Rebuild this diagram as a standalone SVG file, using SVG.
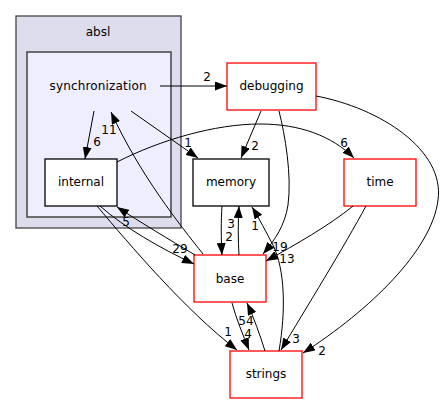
<svg xmlns="http://www.w3.org/2000/svg" width="445" height="404" viewBox="0 0 445 404">
<style>
text{font-family:"DejaVu Sans","Liberation Sans",sans-serif;font-size:12px;fill:#000}
.n{text-anchor:middle}
.e{fill:none;stroke:#000;stroke-width:1}
.red{fill:#fff;stroke:#ff0000;stroke-width:1.3}
.blk{fill:#fff;stroke:#000;stroke-width:1.3}
</style>
<defs>
<marker id="a" viewBox="0 0 12 9" refX="12" refY="4.5" markerWidth="12" markerHeight="9" markerUnits="userSpaceOnUse" orient="auto">
<path d="M0,0 L12,4.5 L0,9 z" fill="#000"/>
</marker>
</defs>
<g id="absl">
<rect x="16" y="16" width="165" height="212" fill="#ddddee" stroke="#444" stroke-width="1.3"/>
<text class="n" x="98" y="36">absl</text>
</g>
<g id="synchronization">
<rect x="27" y="52" width="144" height="165" fill="#eeeeff" stroke="#444" stroke-width="1.5"/>
<text class="n" x="98" y="90" textLength="97" lengthAdjust="spacing">synchronization</text>
</g>
<g id="internal">
<rect x="45" y="159" width="72" height="47" class="blk"/>
<text class="n" x="81" y="186">internal</text>
</g>
<g id="memory">
<rect x="193" y="159" width="76" height="47" class="blk"/>
<text class="n" x="231" y="186">memory</text>
</g>
<g id="debugging">
<rect x="227" y="63" width="89" height="47" class="red"/>
<text class="n" x="271.5" y="90">debugging</text>
</g>
<g id="time">
<rect x="344" y="159" width="72" height="47" class="red"/>
<text class="n" x="380" y="186">time</text>
</g>
<g id="base">
<rect x="194" y="255" width="72" height="47" class="red"/>
<text class="n" x="230" y="283">base</text>
</g>
<g id="strings">
<rect x="230" y="351" width="72" height="47" class="red"/>
<text class="n" x="266" y="378">strings</text>
</g>
<g id="edges">
<path class="e" marker-end="url(#a)" d="M160,86 L227,86"/>
<text class="n" x="207" y="81">2</text>
<path class="e" marker-end="url(#a)" d="M94,111 L85,159"/>
<text class="n" x="97" y="146">6</text>
<path class="e" marker-end="url(#a)" d="M131,111 L198,158"/>
<text class="n" x="188" y="147">1</text>
<path class="e" marker-end="url(#a)" d="M117,162 C160,140 215,124 260,124 C300,124 332,136 354,158"/>
<text class="n" x="344" y="147">6</text>
<path class="e" marker-end="url(#a)" d="M261,111 L241,158"/>
<text class="n" x="255" y="150">2</text>
<path class="e" marker-end="url(#a)" d="M279,111 C285,135 292,175 288,205 C285,225 275,240 263,254"/>
<text class="n" x="280" y="251">19</text>
<path class="e" marker-end="url(#a)" d="M316,96 C380,108 445,150 438,200 C432,250 370,310 303,353"/>
<text class="n" x="322" y="355">2</text>
<path class="e" marker-end="url(#a)" d="M353,206 C330,225 295,245 266,261"/>
<text class="n" x="287" y="263">13</text>
<path class="e" marker-end="url(#a)" d="M366,206 C345,245 305,310 281,350"/>
<text class="n" x="296" y="343">3</text>
<path class="e" marker-end="url(#a)" d="M222,206 C221,220 221,240 222,255"/>
<text class="n" x="229" y="241">2</text>
<path class="e" marker-end="url(#a)" d="M239,255 C238,240 238,222 239,206"/>
<text class="n" x="231" y="228">3</text>
<path class="e" marker-end="url(#a)" d="M279,351 C286,310 285,270 273,245 C266,232 259,218 252,207"/>
<text class="n" x="255" y="230">1</text>
<path class="e" marker-end="url(#a)" d="M232,303 C236,318 243,335 249,350"/>
<text class="n" x="248" y="338">4</text>
<path class="e" marker-end="url(#a)" d="M265,351 C260,335 254,318 247,303"/>
<text class="n" x="246" y="325">54</text>
<path class="e" marker-end="url(#a)" d="M100,206 C125,228 160,248 194,264"/>
<text class="n" x="180" y="253">29</text>
<path class="e" marker-end="url(#a)" d="M97,206 C130,245 185,310 237,350"/>
<text class="n" x="228" y="336">1</text>
<path class="e" marker-end="url(#a)" d="M195,255 C170,240 140,222 117,207"/>
<text class="n" x="126" y="226">5</text>
<path class="e" marker-end="url(#a)" d="M203,254 C180,225 140,175 111,112"/>
<text class="n" x="109" y="134">11</text>
</g>
</svg>
